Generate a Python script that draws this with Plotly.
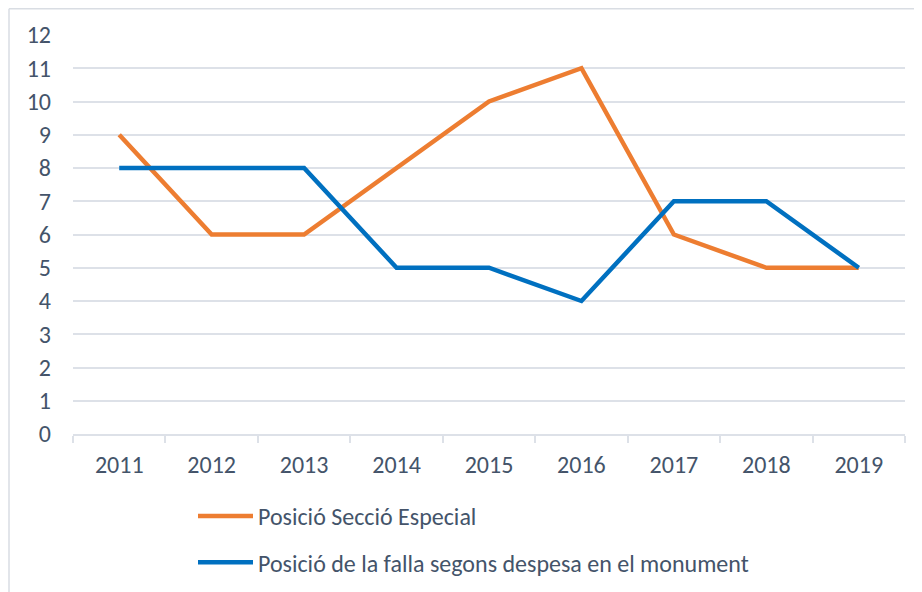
import plotly.graph_objects as go

years = ["2011", "2012", "2013", "2014", "2015", "2016", "2017", "2018", "2019"]
seccio_especial = [9, 6, 6, 8, 10, 11, 6, 5, 5]
despesa_monument = [8, 8, 8, 5, 5, 4, 7, 7, 5]
series_names = ["Posició Secció Especial", "Posició de la falla segons despesa en el monument"]
y_ticks = list(range(0, 13))

W, H = 914, 584
L, R, T, B = 65, 17, 27, 158
PW, PH = W - L - R, H - T - B

text_color = "#44546A"
grid_color = "#dde1e8"
font_family = "Calibri, Carlito, 'Open Sans', sans-serif"

fig = go.Figure()
fig.add_trace(go.Scatter(x=years, y=seccio_especial, mode="lines", name=series_names[0],
                         line=dict(color="#ED7D31", width=4.5), legendgroup="a"))
fig.add_trace(go.Scatter(x=years, y=despesa_monument, mode="lines", name=series_names[1],
                         line=dict(color="#0070C0", width=4.5), legendgroup="b"))

bx = -(L - 1) / PW
by = 1 + (T - 0.75) / PH

fig.update_layout(
    width=W, height=H,
    margin=dict(l=L, r=R, t=T, b=B, autoexpand=False),
    paper_bgcolor="white", plot_bgcolor="white",
    font=dict(family=font_family, size=24, color=text_color),
    showlegend=True,
    legend=dict(orientation="v", x=(185 - L) / PW, xanchor="left",
                y=-(60 / PH), yanchor="top", traceorder="grouped", tracegroupgap=12,
                itemwidth=55,
                font=dict(size=24, color=text_color), bgcolor="rgba(0,0,0,0)"),
    xaxis=dict(type="category", range=[-0.5, 8.5], showgrid=False, showline=True,
               linecolor=grid_color, linewidth=1.5,
               ticks="outside", tickson="boundaries", ticklen=7, tickcolor=grid_color, tickwidth=1.5,
               ticklabelstandoff=8, tickfont=dict(size=24, color=text_color), fixedrange=True),
    yaxis=dict(range=[0, 12], tickvals=y_ticks, showgrid=True, gridcolor=grid_color, gridwidth=1.5,
               zeroline=False, showline=False, ticks="", ticklabelstandoff=21,
               tickfont=dict(size=24, color=text_color), fixedrange=True),
    shapes=[
        dict(type="line", xref="paper", yref="paper", x0=bx, x1=1.1, y0=by, y1=by,
             line=dict(color="#d9dde3", width=1.5)),
        dict(type="line", xref="paper", yref="paper", x0=bx, x1=bx, y0=by, y1=-0.5,
             line=dict(color="#d9dde3", width=1.5)),
    ],
)

fig.write_html("out.html")
